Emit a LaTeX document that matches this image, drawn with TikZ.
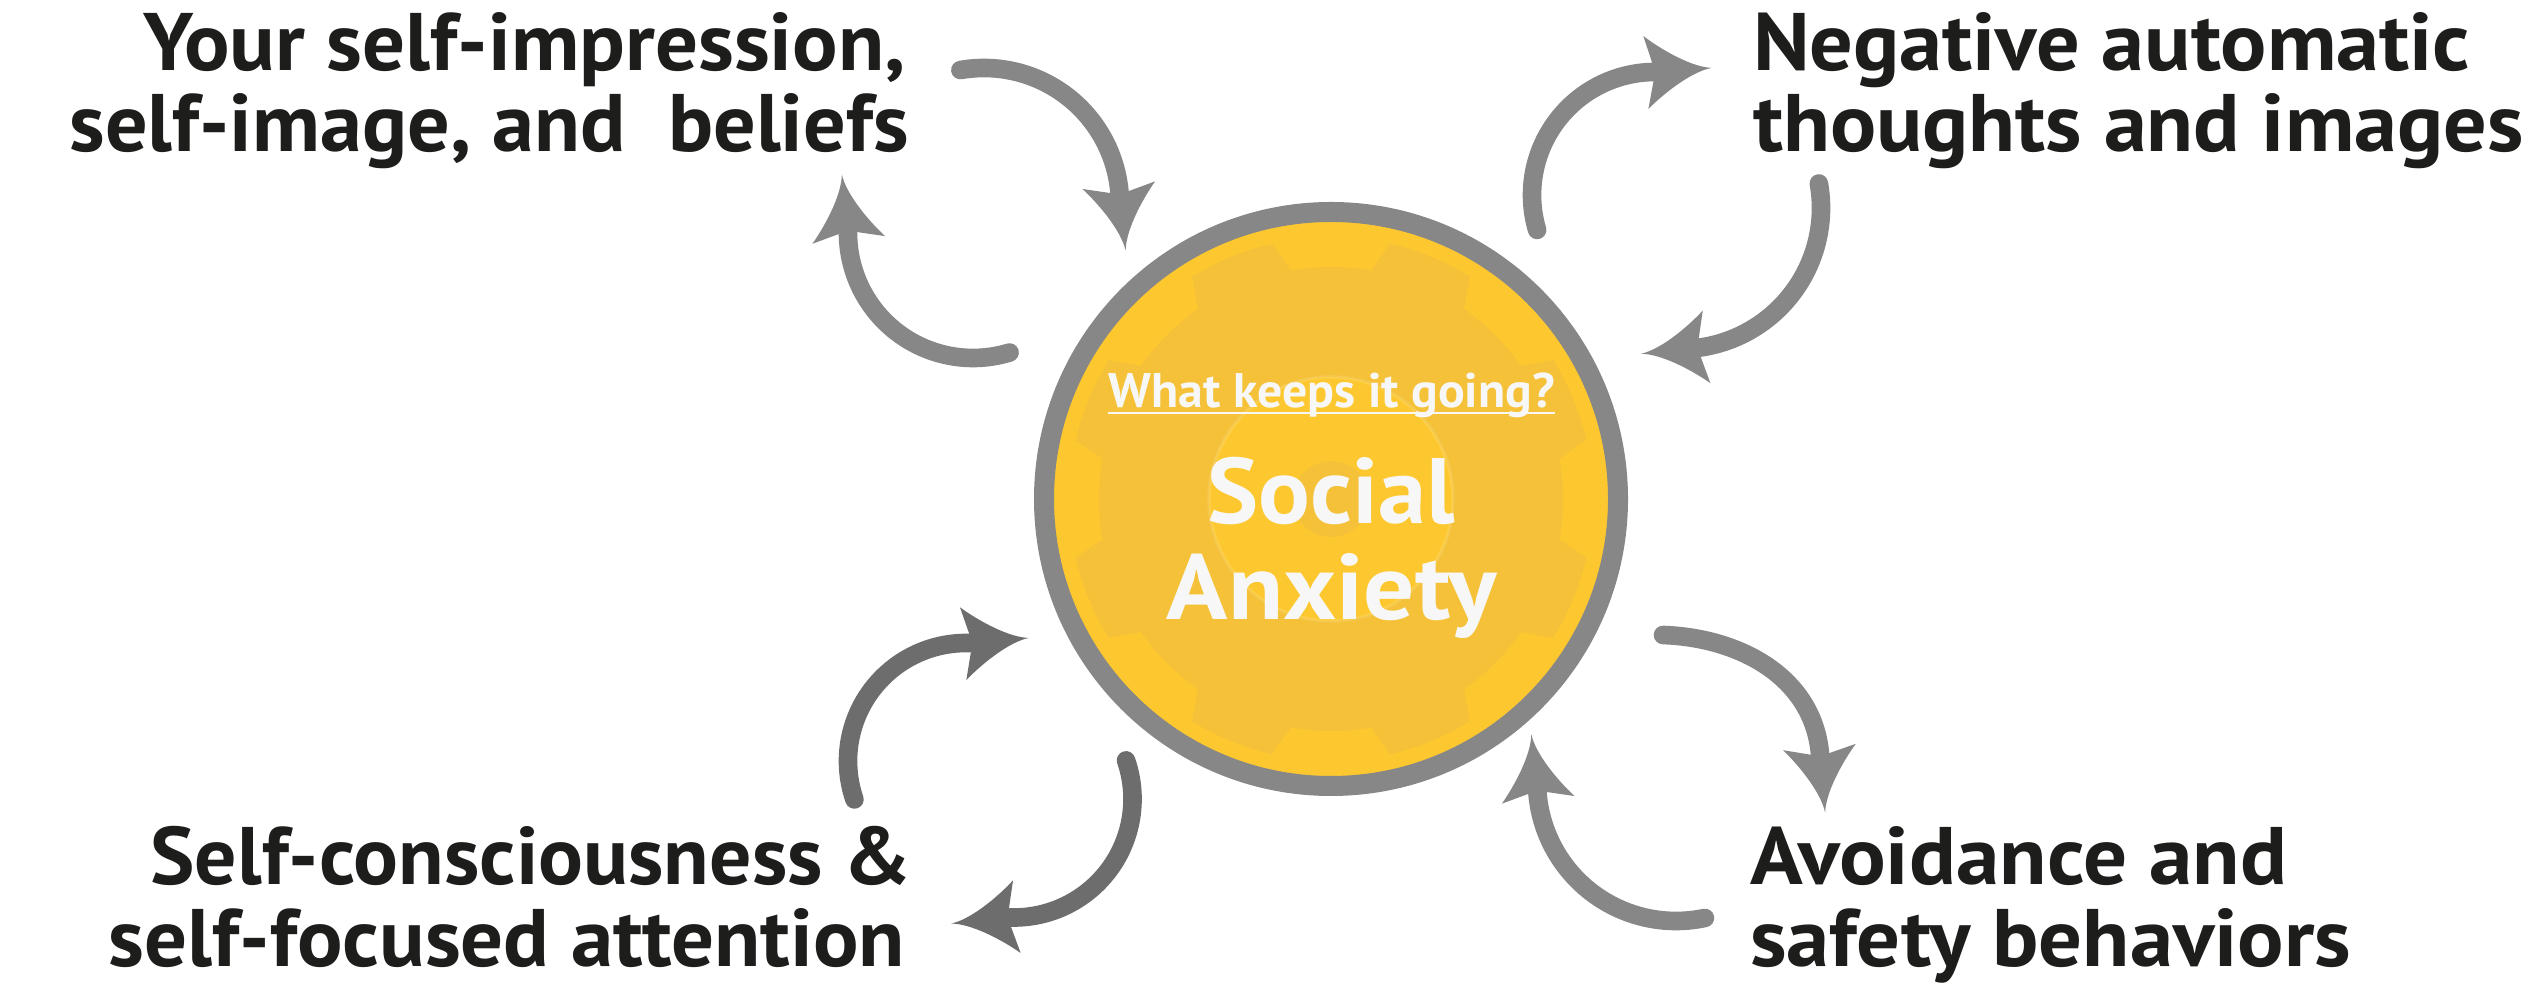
\documentclass[tikz,border=0pt]{standalone}
\usepackage{fontspec}
\usepackage{graphicx}
\usetikzlibrary{calc}
\setmainfont{PT Sans}
\definecolor{labc}{HTML}{1D1D1B}
\definecolor{arrc}{HTML}{878787}
\definecolor{arrd}{HTML}{6D6D6D}
\definecolor{ylw}{HTML}{FDC82F}
\definecolor{gearc}{HTML}{F4C139}
\definecolor{wtxt}{HTML}{F7F7F7}
\newsavebox\fitbox
\newcommand\fitto[2]{\sbox\fitbox{#2}\pgfmathsetmacro\fitfac{#1*0.284528/\the\wd\fitbox}\scalebox{\fitfac}[1]{\usebox\fitbox}}
\tikzset{
  lab/.style={inner sep=0pt, outer sep=0pt, text=labc, font=\bfseries\fontsize{23.2pt}{23.2pt}\selectfont},
  ctrsmall/.style={inner sep=0pt, outer sep=0pt, text=wtxt, font=\bfseries\fontsize{13.8pt}{13.8pt}\selectfont},
  ctrbig/.style={inner sep=0pt, outer sep=0pt, text=wtxt, font=\bfseries\fontsize{26.4pt}{26.4pt}\selectfont},
  cyc/.style={line width=5.3pt, line cap=round},
  pics/ahead/.style={code={\fill (59,0) .. controls (40,2) and (12,20) .. (-7,36.5) -- (0,9) -- (0,-9) -- (-7,-36.5) .. controls (12,-20) and (40,-2) .. (59,0) -- cycle;}}
}
\newcommand\cycarc[7]{%
  \begin{scope}[shift={(#1,#2)}]
    \draw[cyc,draw=#7] (#4:#3) arc[start angle=#4,end angle=#5,radius=#3];
    \pic[color=#7,rotate=#6] at (#5:#3) {ahead};
  \end{scope}}
\begin{document}
\begin{tikzpicture}[x=0.01cm,y=0.01cm]
\useasboundingbox (0,0) rectangle (2545,988);
\fill[white] (0,0) rectangle (2545,988);

% central disc with gear
\begin{scope}[shift={(1331,489)}]
  \fill[ylw] (0,0) circle[radius=287];
  \fill[gearc] (10:232) \foreach \k in {0,...,7} {
      -- ({45*\k+13}:262) arc[start angle={45*\k+13}, end angle={45*\k+32}, radius=262]
      -- ({45*\k+35}:232) arc[start angle={45*\k+35}, end angle={45*\k+55}, radius=232] } -- cycle;
  \fill[ylw] (0,0) circle[radius=122];
  \draw[white, opacity=0.12, line width=1pt] (0,0) circle[radius=122];
  \fill[gearc] (0,0) circle[radius=38];
  \draw[arrc, line width=5.69pt] (0,0) circle[radius=287];
\end{scope}

% centre texts
\node[ctrsmall, anchor=base] (q) at (1331.6,580) {\fitto{446}{What keeps it going?}};
\draw[wtxt, line width=0.6pt] ($(q.base west)+(0,-5)$) -- ($(q.base east)+(0,-5)$);
\node[ctrbig, anchor=base] (soc) at (1331,464.5) {\fitto{247}{Social}};
\node[ctrbig, anchor=base] (anx) at (1331.8,368) {\fitto{329.6}{Anxiety}};

% labels
\node[lab, anchor=base east] (tl1) at (906,917.3) {\fitto{762.5}{Your self-impression,}};
\node[lab, anchor=base east] (tl2) at (909,836.3) {\fitto{839}{self-image, and~ beliefs}};
\node[lab, anchor=base west] (tr1) at (1753,917.3) {\fitto{716.7}{Negative automatic}};
\node[lab, anchor=base west] (tr2) at (1753,836.3) {\fitto{770}{thoughts and images}};
\node[lab, anchor=base east] (bl1) at (912,103) {\fitto{761}{Self-consciousness \&}};
\node[lab, anchor=base east] (bl2) at (905,21.3) {\fitto{796}{self-focused attention}};
\node[lab, anchor=base west] (br1) at (1750.3,103) {\fitto{536.6}{Avoidance and}};
\node[lab, anchor=base west] (br2) at (1750,21.3) {\fitto{600.8}{safety behaviors}};

% cycle arrows
\cycarc{984}{784}{136}{100}{5}{-84}{arrc}
\cycarc{973}{755}{125}{-73}{-180}{96}{arrc}
\cycarc{1655}{793}{123}{196.5}{91}{4}{arrc}
\cycarc{1680}{780}{141}{10}{-82}{-174}{arrc}
\cycarc{966}{227}{118}{199}{88}{5}{arrd}
\cycarc{1014}{189}{118.5}{19}{-92}{-174}{arrd}
\coordinate (bra) at (1663,353);
\coordinate (brb) at (1820,234);
\draw[cyc, draw=arrc] (bra) to[out=-2,in=95] (brb);
\pic[color=arrc,rotate=-85] at (brb) {ahead};
\cycarc{1676}{206}{139}{-78}{-175.5}{96}{arrc}
\end{tikzpicture}
\end{document}
